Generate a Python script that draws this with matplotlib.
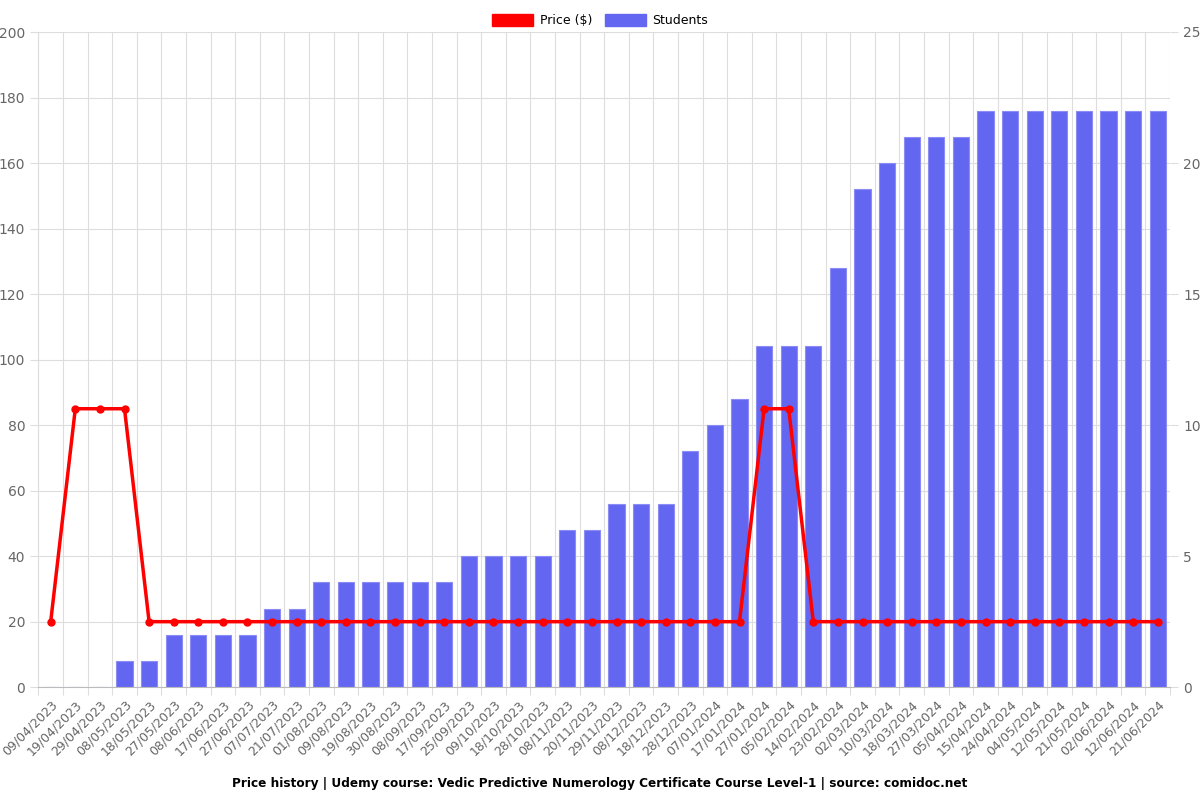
import numpy as np
import matplotlib.pyplot as plt
from matplotlib.patches import Patch

dates = ["09/04/2023", "19/04/2023", "29/04/2023", "08/05/2023", "18/05/2023", "27/05/2023",
         "08/06/2023", "17/06/2023", "27/06/2023", "07/07/2023", "21/07/2023", "01/08/2023",
         "09/08/2023", "19/08/2023", "30/08/2023", "08/09/2023", "17/09/2023", "25/09/2023",
         "09/10/2023", "18/10/2023", "28/10/2023", "08/11/2023", "20/11/2023", "29/11/2023",
         "08/12/2023", "18/12/2023", "28/12/2023", "07/01/2024", "17/01/2024", "27/01/2024",
         "05/02/2024", "14/02/2024", "23/02/2024", "02/03/2024", "10/03/2024", "18/03/2024",
         "27/03/2024", "05/04/2024", "15/04/2024", "24/04/2024", "04/05/2024", "12/05/2024",
         "21/05/2024", "02/06/2024", "12/06/2024", "21/06/2024"]
students = [0, 0, 0, 1, 1, 2, 2, 2, 2, 3, 3, 4, 4, 4, 4, 4, 4, 5, 5, 5, 5, 6, 6, 7, 7, 7,
            9, 10, 11, 13, 13, 13, 16, 19, 20, 21, 21, 21, 22, 22, 22, 22, 22, 22, 22, 22]
price = [20, 85, 85, 85, 20, 20, 20, 20, 20, 20, 20, 20, 20, 20, 20, 20, 20, 20, 20, 20,
         20, 20, 20, 20, 20, 20, 20, 20, 20, 85, 85, 20, 20, 20, 20, 20, 20, 20, 20, 20,
         20, 20, 20, 20, 20, 20]

x = np.arange(len(dates))
grid_c = "#dddddd"
text_c = "#666666"

fig = plt.figure(figsize=(12, 8), dpi=100)
ax = fig.add_axes([0.032, 0.141, 0.943, 0.819])
ax2 = ax.twinx()

# bars on right axis, line on left axis
ax2.bar(x, students, width=0.66, color="#6366f1", edgecolor="#8b8df5", linewidth=0.8, zorder=2)
ax2.set_ylim(0, 25)
ax2.set_yticks(np.arange(0, 26, 5))

ax.set_zorder(ax2.get_zorder() + 1)
ax.patch.set_visible(False)
ax.plot(x, price, color="#ff0000", linewidth=2.5, marker="o", markersize=5, zorder=3)
ax.set_ylim(0, 200)
ax.set_yticks(np.arange(0, 201, 20))
ax.set_xlim(-0.5, len(dates) - 0.5)

# gridlines at category boundaries
for b in np.arange(-0.5, len(dates), 1):
    ax2.axvline(b, color=grid_c, linewidth=0.8, zorder=0)
for yv in np.arange(0, 201, 20):
    ax2.axhline(yv / 8, color=grid_c, linewidth=0.8, zorder=0)

ax.set_xticks(np.arange(-0.5, len(dates), 1), minor=False)
ax.set_xticklabels([])
ax.set_xticks(x, minor=True)
ax.set_xticklabels(dates, minor=True, rotation=45, ha="right", rotation_mode="anchor",
                   fontsize=9, color=text_c)
ax.tick_params(axis="x", which="minor", length=0, pad=8)
ax.tick_params(axis="x", which="major", length=6, color=grid_c)
ax.tick_params(axis="y", labelsize=10, colors=text_c, length=6, color=grid_c)
ax2.tick_params(axis="y", labelsize=10, colors=text_c, length=6, color=grid_c)
ax2.tick_params(axis="x", length=0)

for a in (ax, ax2):
    for s in a.spines.values():
        s.set_visible(False)
ax.spines["bottom"].set_visible(True)
ax.spines["bottom"].set_color("#bbbbbb")
ax.spines["left"].set_visible(True)
ax.spines["left"].set_color(grid_c)

handles = [Patch(color="#ff0000", label="Price ($)"), Patch(color="#6366f1", label="Students")]
fig.legend(handles=handles, loc="upper center", bbox_to_anchor=(0.5, 0.997), ncol=2,
           frameon=False, fontsize=9, handlelength=3.3, handleheight=1.2,
           handletextpad=0.5, columnspacing=1.0)

fig.text(0.5, 0.012, "Price history | Udemy course: Vedic Predictive Numerology Certificate Course Level-1 | source: comidoc.net",
         ha="center", va="bottom", fontsize=8.7, fontweight="bold")

fig.savefig("out.png")
